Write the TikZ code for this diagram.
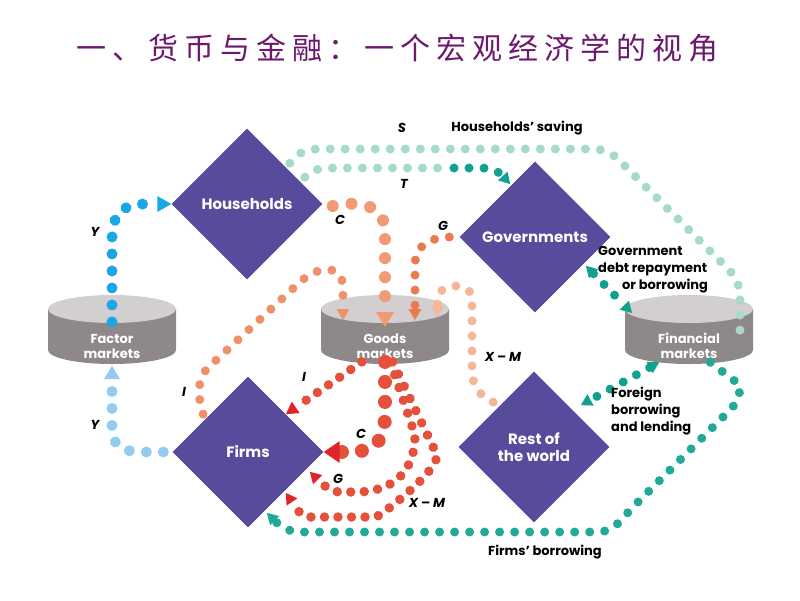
\documentclass[tikz,border=0pt]{standalone}
\usepackage{fontspec}
\setmainfont{Poppins}
\newfontfamily\cjk[LetterSpace=20]{Noto Sans CJK SC}
\usetikzlibrary{shapes.geometric,arrows.meta}

\definecolor{boxpurple}{HTML}{574B9B}
\definecolor{titlepurple}{HTML}{6D1A6E}
\definecolor{diskside}{HTML}{8F8888}
\definecolor{disktop}{HTML}{D3CECF}
\definecolor{blueY}{HTML}{1AA7E6}
\definecolor{blueL}{HTML}{92CDF1}
\definecolor{tealL}{HTML}{A8D9CD}
\definecolor{tealD}{HTML}{12A091}
\definecolor{tealM}{HTML}{22AA98}
\definecolor{orangeL}{HTML}{F19A74}
\definecolor{orangeI}{HTML}{EE9069}
\definecolor{orangeM}{HTML}{EC7A50}
\definecolor{orangeX}{HTML}{F4B797}
\definecolor{redflow}{HTML}{E5503A}
\definecolor{tipred}{HTML}{E0242C}

\tikzset{
  box/.style={diamond, fill=boxpurple, minimum width=151pt, minimum height=151pt,
    inner sep=0pt, text=white, font=\fontsize{15}{17}\selectfont\bfseries, align=center},
  disklabel/.style={text=white, font=\fontsize{13}{15}\selectfont\bfseries, align=center},
  lbl/.style={font=\fontsize{13}{17}\selectfont\bfseries, align=left, inner sep=0pt},
  sym/.style={font=\fontsize{13}{15}\selectfont\bfseries\itshape, inner sep=0pt},
  dots/.style={line width=9pt, line cap=round, dash pattern=on 0.01pt off 15pt},
  smalldots/.style={line width=9.5pt, line cap=round, dash pattern=on 0.01pt off 13.5pt},
  bluedots/.style={line width=11pt, line cap=round, dash pattern=on 0.01pt off 17pt},
  bigdots/.style={line width=12pt, line cap=round, dash pattern=on 0.01pt off 19pt},
  tip/.style={-{Triangle[length=11pt,width=13pt,line width=0pt]}},
  bigtip/.style={-{Triangle[length=15pt,width=18pt,line width=0pt]}},
  redtip/.style={-{Triangle[length=11pt,width=13pt,line width=0pt,color=tipred]}},
  twotips/.style={{Triangle[length=11pt,width=13pt,line width=0pt]}-{Triangle[length=11pt,width=13pt,line width=0pt]}}
}

\begin{document}
\begin{tikzpicture}[x=1pt,y=-1pt]
\useasboundingbox[fill=white] (0,0) rectangle (800,600);

% title
\node[text=titlepurple, font=\cjk\fontsize{30}{32}\selectfont] (title) at (397,48) {一、货币与金融：一个宏观经济学的视角};

% markets
\foreach \cx/\nm/\txt in {112/factor/{Factor\\markets}, 385/goods/{Goods\\markets}, 689/fin/{Financial\\markets}}{
  \fill[diskside] (\cx-64,309) -- (\cx-64,350) arc[start angle=180,end angle=0,x radius=64,y radius=14] -- (\cx+64,309) -- cycle;
  \fill[disktop] (\cx,309) ellipse[x radius=64,y radius=14];
  \coordinate (\nm-top) at (\cx,309);
  \node[disklabel] (\nm) at (\cx,346) {\txt};
}

% sectors
\node[box] (hh) at (247,204) {Households};
\node[box] (gov) at (535,237) {Governments};
\node[box] (firms) at (248,452) {Firms};
\node[box] (row) at (534,447) {Rest of\\the world};

% income
\draw[bluedots, blueY, -{Triangle[length=14pt,width=16pt,line width=0pt]}] ([yshift=-13pt]factor-top) -- (112,240) .. controls (112,212) and (124,204) .. (146,204) -- (hh.west);
\draw[bluedots, blueL, -{Triangle[length=13pt,width=16pt,line width=0pt]}] ([xshift=-9pt]firms.west) -- (145,452) .. controls (119,452) and (112,445) .. (112,425) -- (112,366);

% saving and taxes
\draw[dots, tealL] ([xshift=5pt,yshift=3pt]hh.north east) .. controls (297,153) and (306,149) .. (320,149) -- (590,149)
  .. controls (606,149) and (612,153) .. (622,163) -- (728,269) .. controls (736,277) and (740,285) .. (740,298) -- (740,340);
\draw[dots, tealL] ([xshift=20pt,yshift=-11pt]hh.north east) .. controls (312,170) and (318,168) .. (332,168) -- (440,168);
\draw[dots, tealD, tip] (454,168) -- (482,168) .. controls (494,168) and (501,174) .. ([shift={(13pt,15pt)}]gov.north west);

% spending into goods markets
\draw[bigdots, orangeL, bigtip] ([xshift=10pt,yshift=-2pt]hh.east) .. controls (360,200) and (385,205) .. (385,232) -- (385,327);
\draw[dots, orangeM, tip] ([xshift=-10pt]gov.west) .. controls (430,238) and (415,245) .. (415,265) -- (415,320);
\draw[dots, orangeI, tip] ([xshift=-7pt]firms.north west) .. controls (196,392) and (198,375) .. (212,364) -- (300,282)
  .. controls (320,264) and (343,265) .. (343,288) -- (343,320);
\draw[dots, orangeX, tip] ([xshift=-3pt,yshift=7pt]row.north west) .. controls (480,396) and (472,386) .. (472,370) -- (472,298)
  .. controls (472,283) and (440,281) .. (438,298) -- (437,317);

% goods markets to firms
\draw[smalldots, redflow, -{Triangle[length=12pt,width=14pt,line width=0pt,color=tipred]}] ([shift={(-50pt,-16pt)}]goods) -- (firms.north east);
\draw[bigdots, line width=14pt, dash pattern=on 0.01pt off 20pt, redflow, -{Triangle[length=16pt,width=22pt,line width=0pt,color=tipred]}]
  ([yshift=-26pt]goods) -- (385,415) .. controls (385,440) and (375,452) .. (350,452) -- (firms.east);
\draw[smalldots, redflow, redtip] ([shift={(30pt,-21pt)}]goods) -- (415,435)
  .. controls (415,470) and (395,492) .. (355,492) -- (340,492) .. controls (330,492) and (320,482) .. ([shift={(24pt,18pt)}]firms.south east);
\draw[smalldots, redflow, redtip] ([shift={(52pt,-20pt)}]goods) -- (437,455)
  .. controls (437,470) and (400,500) .. (380,515) .. controls (377,517) and (374,517) .. (370,517) -- (310,517)
  .. controls (300,517) and (294,505) .. ([yshift=-3pt]firms.south east);

% financial flows
\draw[dots, tealM, tip] ([shift={(51pt,-20pt)}]fin) -- (740,385) .. controls (740,398) and (736,404) .. (728,412) -- (630,510)
  .. controls (620,522) and (612,532) .. (598,532) -- (300,532) .. controls (288,532) and (280,526) .. ([shift={(-19pt,-23pt)}]firms.south east);
\draw[dots, tealD, twotips] ([shift={(13pt,9pt)}]gov.south east) -- ([xshift=-57pt,yshift=-4pt]fin-top);
\draw[dots, tealD, twotips] ([shift={(-52pt,-8pt)}]fin) -- ([shift={(9pt,4pt)}]row.north east);

% labels
\node[sym] (lS) at (402,128) {S};
\node[lbl] (lsaving) at (517,128) {Households’ saving};
\node[sym] (lT) at (404,184) {T};
\node[sym] (lC1) at (340,220) {C};
\node[sym] (lG1) at (443,226) {G};
\node[lbl, anchor=north west] (ldebt) at (598,246) {Government\\debt repayment\\\hspace{24pt}or borrowing};
\node[lbl, anchor=north west] (lforeign) at (611,387) {Foreign\\borrowing\\and lending};
\node[lbl] (lborrow) at (545,552) {Firms’ borrowing};
\node[sym] (lXM1) at (503,357) {X – M};
\node[sym] (lXM2) at (427,503) {X – M};
\node[sym] (lI1) at (184,392) {I};
\node[sym] (lI2) at (304,377) {I};
\node[sym] (lC2) at (361,434) {C};
\node[sym] (lG2) at (338,479) {G};
\node[sym] (lY1) at (95,232) {Y};
\node[sym] (lY2) at (95,425) {Y};
\end{tikzpicture}
\end{document}
